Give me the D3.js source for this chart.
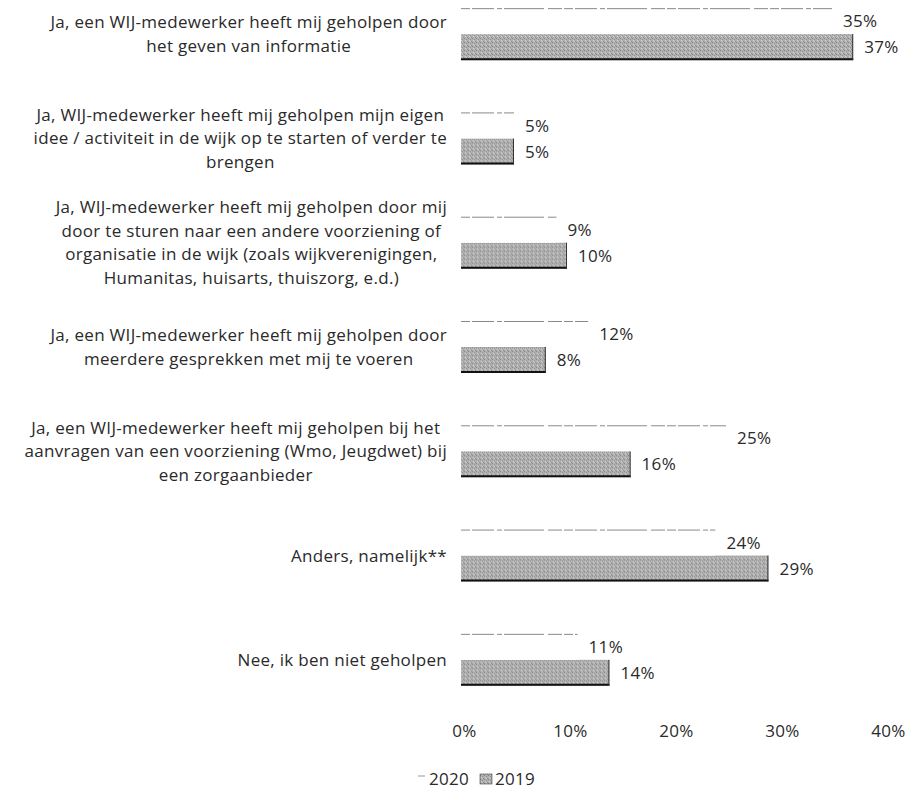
<!DOCTYPE html>
<html>
<head>
<meta charset="utf-8">
<script src="https://cdn.jsdelivr.net/npm/d3@7"></script>
<style>
  body { margin: 0; background: #fff; }
  text { font-family: "Open Sans", sans-serif; fill: #2a2a2a; letter-spacing: 0.3px; }
</style>
</head>
<body>
<div id="chart"></div>
<script>
// Data
var categories = [
  ["Ja, een WIJ-medewerker heeft mij geholpen door", "het geven van informatie"],
  ["Ja, WIJ-medewerker heeft mij geholpen mijn eigen", "idee / activiteit in de wijk op te starten of verder te", "brengen"],
  ["Ja, WIJ-medewerker heeft mij geholpen door mij", "door te sturen naar een andere voorziening of", "organisatie in de wijk (zoals wijkverenigingen,", "Humanitas, huisarts, thuiszorg, e.d.)"],
  ["Ja, een WIJ-medewerker heeft mij geholpen door", "meerdere gesprekken met mij te voeren"],
  ["Ja, een WIJ-medewerker heeft mij geholpen bij het", "aanvragen van een voorziening (Wmo, Jeugdwet) bij", "een zorgaanbieder"],
  ["Anders, namelijk**"],
  ["Nee, ik ben niet geholpen"]
];
var series = ["2020", "2019"];
var values2020 = [35, 5, 9, 12, 25, 24, 11];
var values2019 = [37, 5, 10, 8, 16, 29, 14];
var xTicks = [0, 10, 20, 30, 40];

var width = 924;
var height = 791;
var fontSize = "17px";

var svg = d3.select("#chart").append("svg")
  .attr("width", width)
  .attr("height", height);

// scanned grey texture for 2019
var defs = svg.append("defs");
var pat = defs.append("pattern")
  .attr("id", "grain")
  .attr("width", 4).attr("height", 4)
  .attr("patternUnits", "userSpaceOnUse");
pat.append("rect").attr("width", 4).attr("height", 4).attr("fill", "#b0b0b0");
pat.append("rect").attr("x", 0).attr("y", 0).attr("width", 1).attr("height", 1).attr("fill", "#858585");
pat.append("rect").attr("x", 2).attr("y", 1).attr("width", 1).attr("height", 1).attr("fill", "#909090");
pat.append("rect").attr("x", 1).attr("y", 2).attr("width", 1).attr("height", 1).attr("fill", "#d0d0d0");
pat.append("rect").attr("x", 3).attr("y", 3).attr("width", 1).attr("height", 1).attr("fill", "#8c8c8c");
pat.append("rect").attr("x", 2).attr("y", 3).attr("width", 1).attr("height", 1).attr("fill", "#c4c4c4");

/* Scales */
var xScale = d3.scaleLinear()
  .domain([0, 40])
  .range([461, 885]);

var yScale = d3.scaleBand()
  .domain(d3.range(categories.length))
  .range([-18, 712]);

var groupH = 52;
var ySub = d3.scaleBand()
  .domain(series)
  .range([yScale.bandwidth() / 2 - groupH / 2, yScale.bandwidth() / 2 + groupH / 2]);

var rows = categories.map((lines, i) => ({
  lines: lines,
  vals: {"2020": values2020[i], "2019": values2019[i]}
}));

var groups = svg.selectAll(".cat")
  .data(rows)
  .enter().append("g")
  .attr("class", "cat")
  .attr("transform", (d, i) => `translate(0, ${yScale(i)})`);

// 2019 bars
groups.append("rect")
  .attr("x", xScale(0))
  .attr("y", ySub("2019"))
  .attr("width", d => xScale(d.vals["2019"]) - xScale(0))
  .attr("height", ySub.bandwidth())
  .attr("fill", "url(#grain)");
groups.append("line")
  .attr("x1", xScale(0))
  .attr("x2", d => xScale(d.vals["2019"]))
  .attr("y1", ySub("2019") + ySub.bandwidth() - 1)
  .attr("y2", ySub("2019") + ySub.bandwidth() - 1)
  .attr("stroke", "#111").attr("stroke-width", 2);
groups.append("line")
  .attr("x1", d => xScale(d.vals["2019"]) - 0.5)
  .attr("x2", d => xScale(d.vals["2019"]) - 0.5)
  .attr("y1", ySub("2019"))
  .attr("y2", ySub("2019") + ySub.bandwidth())
  .attr("stroke", "#333").attr("stroke-width", 1);

// 2020 bars (white, faint scanned outline)
groups.append("rect")
  .attr("x", xScale(0))
  .attr("y", ySub("2020"))
  .attr("width", d => xScale(d.vals["2020"]) - xScale(0))
  .attr("height", ySub.bandwidth())
  .attr("fill", "#fff");
groups.append("line")
  .attr("x1", xScale(0))
  .attr("x2", d => xScale(d.vals["2020"]))
  .attr("y1", ySub("2020") + 0.5)
  .attr("y2", ySub("2020") + 0.5)
  .attr("stroke", "#8a8a8a")
  .attr("stroke-width", 1)
  .attr("stroke-dasharray", "9,2,22,3,5,2,40,4,14,2");

// value labels
series.forEach(s => {
  groups.append("text")
    .attr("x", d => xScale(d.vals[s]) + 11)
    .attr("y", ySub(s) + ySub.bandwidth() / 2)
    .attr("dy", "0.36em")
    .attr("font-size", fontSize)
    .text(d => d.vals[s] + "%");
});

// category labels: centred lines, block right aligned
var lineH = 23.5;
groups.each(function (d) {
  var g = d3.select(this);
  var t = g.append("text")
    .attr("font-size", fontSize)
    .attr("text-anchor", "middle");
  var n = d.lines.length;
  d.lines.forEach((ln, k) => {
    t.append("tspan")
      .attr("y", yScale.bandwidth() / 2 + (k - (n - 1) / 2) * lineH)
      .attr("dy", "0.35em")
      .text(ln);
  });
  var w = 0;
  t.selectAll("tspan").each(function () {
    w = Math.max(w, this.getComputedTextLength());
  });
  t.selectAll("tspan").attr("x", 447 - w / 2);
});

/* X axis */
var xAxis = d3.axisBottom(xScale)
  .tickValues(xTicks)
  .tickSize(0)
  .tickPadding(0)
  .tickFormat(d => d + "%");

var xAxisGroup = svg.append("g")
  .attr("transform", "translate(3, 725)")
  .call(xAxis);
xAxisGroup.select(".domain").remove();
xAxisGroup.selectAll("text")
  .attr("font-size", fontSize)
  .attr("font-family", "Open Sans, sans-serif")
  .attr("fill", "#2a2a2a");

/* Legend */
var legend = svg.append("g").attr("transform", "translate(0, 779)");
legend.append("line")
  .attr("x1", 418).attr("x2", 425).attr("y1", -3).attr("y2", -3)
  .attr("stroke", "#999");
legend.append("text").attr("x", 429).attr("y", 0).attr("dy", "0.35em")
  .attr("font-size", fontSize).text("2020");
legend.append("rect")
  .attr("x", 480).attr("y", -5).attr("width", 12).attr("height", 10)
  .attr("fill", "url(#grain)").attr("stroke", "#444").attr("stroke-width", 0.6);
legend.append("text").attr("x", 495).attr("y", 0).attr("dy", "0.35em")
  .attr("font-size", fontSize).text("2019");
</script>
</body>
</html>
